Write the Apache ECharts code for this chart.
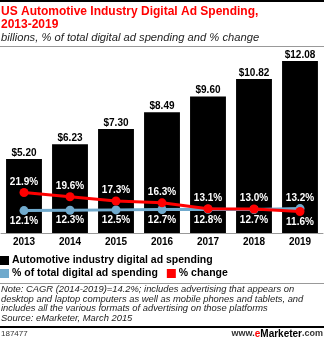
<!DOCTYPE html>
<html>
<head>
<meta charset="utf-8">
<script src="https://cdn.jsdelivr.net/npm/echarts@6/dist/echarts.min.js"></script>
<style>
  html, body { margin: 0; padding: 0; background: #fff; }
  #chart { width: 324px; height: 340px; }
</style>
</head>
<body>
<div id="chart"></div>
<script>
// Years on the category axis
const years = ['2013', '2014', '2015', '2016', '2017', '2018', '2019'];
// Automotive industry digital ad spending, billions of dollars
const spending = [5.20, 6.23, 7.30, 8.49, 9.60, 10.82, 12.08];
// Share of total digital ad spending, %
const shareOfTotal = [12.1, 12.3, 12.5, 12.7, 12.8, 12.7, 13.2];
// Year-over-year change, %
const pctChange = [21.9, 19.6, 17.3, 16.3, 13.1, 13.0, 11.6];

const seriesNames = {
  bar: 'Automotive industry digital ad spending',
  share: '% of total digital ad spending',
  change: '% change'
};

const FONT = '"Liberation Sans", Arial, sans-serif';
const RED = '#ff0000';
const BLUE = '#70aacd';

// Put each percentage label on the side away from the other line
function lineData(values, other) {
  return values.map((v, i) => ({
    value: v,
    label: { position: v >= other[i] ? 'top' : 'bottom' }
  }));
}

const pctLabel = {
  show: true,
  color: '#fff',
  fontFamily: FONT,
  fontWeight: 'bold',
  fontSize: 10,
  distance: 1,
  formatter: p => p.value.toFixed(1) + '%'
};

const chart = echarts.init(document.getElementById('chart'), null, { renderer: 'canvas' });

chart.setOption({
  animation: false,
  backgroundColor: '#fff',
  textStyle: { fontFamily: FONT },
  title: [
    {
      text: 'US Automotive Industry Digital Ad Spending,\n2013-2019',
      left: 1, top: 5, padding: 0,
      textStyle: { color: RED, fontSize: 12, fontWeight: 'bold', fontFamily: FONT, lineHeight: 13 }
    },
    {
      text: 'billions, % of total digital ad spending and % change',
      left: 1, top: 32, padding: 0,
      textStyle: { color: '#222', fontSize: 11.2, fontStyle: 'italic', fontWeight: 'normal', fontFamily: FONT }
    },
    {
      text: 'Note: CAGR (2014-2019)=14.2%; includes advertising that appears on\n' +
            'desktop and laptop computers as well as mobile phones and tablets, and\n' +
            'includes all the various formats of advertising on those platforms\n' +
            'Source: eMarketer, March 2015',
      left: 1, top: 285, padding: 0,
      textStyle: { color: '#222', fontSize: 9.4, fontStyle: 'italic', fontWeight: 'normal', fontFamily: FONT, lineHeight: 9.4 }
    },
    {
      text: '187477',
      left: 1, top: 330, padding: 0,
      textStyle: { color: '#333', fontSize: 8, fontWeight: 'normal', fontFamily: FONT }
    },
    {
      text: '{n|www.}{e|e}{b|Marketer}{n|.com}',
      right: 1, top: 329, padding: 0,
      textStyle: {
        fontFamily: FONT,
        rich: {
          n: { fontSize: 9, color: '#333', fontFamily: FONT },
          e: { fontSize: 10, color: RED, fontWeight: 'bold', fontFamily: FONT },
          b: { fontSize: 10, color: '#000', fontWeight: 'bold', fontFamily: FONT }
        }
      }
    }
  ],
  legend: [
    {
      data: [seriesNames.bar],
      left: 0, top: 255, padding: 0,
      icon: 'rect', itemWidth: 9, itemHeight: 9,
      textStyle: { fontSize: 10.5, fontWeight: 'bold', color: '#000', fontFamily: FONT, padding: [0, 0, 0, -2] }
    },
    {
      data: [seriesNames.share, seriesNames.change],
      left: 0, top: 268, padding: 0, itemGap: 9,
      icon: 'rect', itemWidth: 9, itemHeight: 9,
      textStyle: { fontSize: 10.5, fontWeight: 'bold', color: '#000', fontFamily: FONT, padding: [0, 0, 0, -2] }
    }
  ],
  grid: { left: 1, right: 1, top: 48, bottom: 107, containLabel: false },
  xAxis: {
    type: 'category',
    data: years,
    axisTick: { show: false },
    axisLine: { lineStyle: { color: '#999', width: 1 } },
    axisLabel: { color: '#000', fontWeight: 'bold', fontSize: 10, margin: 4, fontFamily: FONT }
  },
  yAxis: [
    { type: 'value', min: 0, max: 13, show: false, splitLine: { show: false } },
    { type: 'value', min: 0, max: 100, show: false, splitLine: { show: false } }
  ],
  series: [
    {
      name: seriesNames.bar,
      type: 'bar',
      data: spending,
      yAxisIndex: 0,
      barCategoryGap: '22%',
      itemStyle: { color: '#000' },
      label: {
        show: true, position: 'top', distance: 1,
        color: '#000', fontWeight: 'bold', fontSize: 10, fontFamily: FONT,
        formatter: p => '$' + p.value.toFixed(2)
      }
    },
    {
      name: seriesNames.share,
      type: 'line',
      yAxisIndex: 1,
      data: lineData(shareOfTotal, pctChange),
      color: BLUE,
      lineStyle: { color: BLUE, width: 3 },
      itemStyle: { color: BLUE },
      symbol: 'circle', symbolSize: 9,
      label: pctLabel,
      z: 3
    },
    {
      name: seriesNames.change,
      type: 'line',
      yAxisIndex: 1,
      data: lineData(pctChange, shareOfTotal),
      color: RED,
      lineStyle: { color: RED, width: 3 },
      itemStyle: { color: RED },
      symbol: 'circle', symbolSize: 9,
      label: pctLabel,
      z: 4
    }
  ],
  graphic: [
    { type: 'rect', shape: { x: 0, y: 0, width: 324, height: 2 }, style: { fill: '#000' } },
    { type: 'rect', shape: { x: 0, y: 46, width: 324, height: 1 }, style: { fill: '#999' } },
    { type: 'rect', shape: { x: 0, y: 283, width: 324, height: 1 }, style: { fill: '#999' } },
    { type: 'rect', shape: { x: 0, y: 326, width: 324, height: 2 }, style: { fill: '#000' } }
  ]
});
</script>
</body>
</html>
